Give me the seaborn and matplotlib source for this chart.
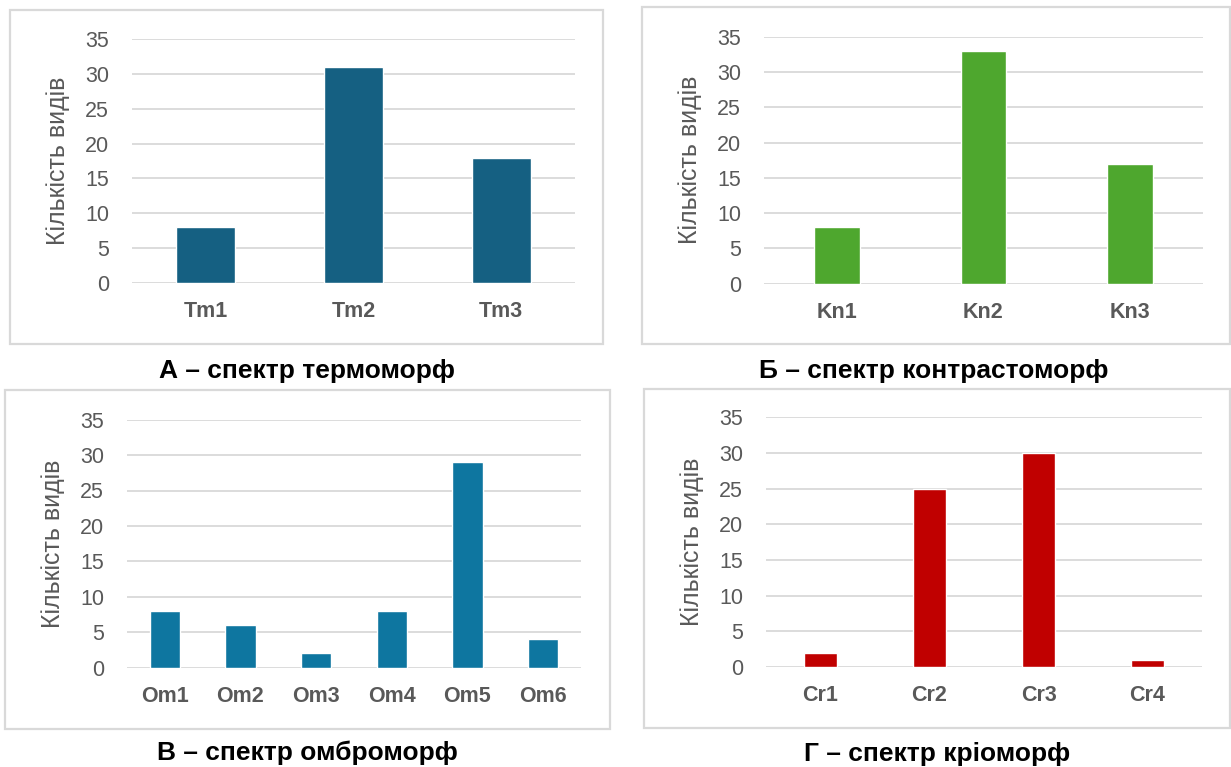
import matplotlib
matplotlib.use("Agg")
import matplotlib.pyplot as plt
from matplotlib.patches import Rectangle
import seaborn as sns
import pandas as pd

# Categories and species counts for each spectrum
thermo_cats = ["Tm1", "Tm2", "Tm3"]
thermo_vals = [8, 31, 18]

contrast_cats = ["Kn1", "Kn2", "Kn3"]
contrast_vals = [8, 33, 17]

ombro_cats = ["Om1", "Om2", "Om3", "Om4", "Om5", "Om6"]
ombro_vals = [8, 6, 2, 8, 29, 4]

cryo_cats = ["Cr1", "Cr2", "Cr3", "Cr4"]
cryo_vals = [2, 25, 30, 1]

y_ticks = [0, 5, 10, 15, 20, 25, 30, 35]
y_label = "Кількість видів"
captions = ["А – спектр термоморф", "Б – спектр контрастоморф",
            "В – спектр омброморф", "Г – спектр кріоморф"]

sns.set_theme(style="white")
plt.rcParams["font.family"] = ["Liberation Sans", "DejaVu Sans"]

W, H = 1231, 767
fig = plt.figure(figsize=(W / 100, H / 100), dpi=100)
fig.patch.set_facecolor("white")

GRID = "#D9D9D9"
TEXT = "#595959"


def px_axes(left, right, top, bottom):
    return fig.add_axes([left / W, 1 - bottom / H, (right - left) / W, (bottom - top) / H])


def frame(left, top, right, bottom):
    fig.patches.append(Rectangle((left / W, 1 - bottom / H), (right - left) / W,
                                 (bottom - top) / H, transform=fig.transFigure,
                                 fill=False, edgecolor=GRID, linewidth=1.6))


panels = [
    # cats, vals, color, bar width, axes box (l, r, t, b), frame (l, t, r, b), caption pos
    (thermo_cats, thermo_vals, "#156082", 0.40, (132, 575, 39, 283), (10, 10, 603, 344), (307, 378)),
    (contrast_cats, contrast_vals, "#4EA72E", 0.31, (764, 1203, 36.7, 283.7), (642, 7, 1230, 344), (934, 378)),
    (ombro_cats, ombro_vals, "#0E76A0", 0.40, (127, 581, 419.7, 667.5), (5, 390, 610, 729), (307, 760)),
    (cryo_cats, cryo_vals, "#C00000", 0.31, (766, 1202, 417.3, 667), (644, 389, 1230, 728), (937, 761)),
]

for (cats, vals, color, bw, box, fr, cap), caption in zip(panels, captions):
    frame(*fr)
    ax = px_axes(*box)
    df = pd.DataFrame({"cat": cats, "n": vals})
    sns.barplot(data=df, x="cat", y="n", order=cats, color=color, width=bw,
                saturation=1, ax=ax, zorder=3)
    ax.set_xlim(-0.5, len(cats) - 0.5)
    ax.set_ylim(0, 35)
    ax.set_yticks(y_ticks)
    ax.yaxis.grid(True, color=GRID, linewidth=1.3)
    ax.xaxis.grid(False)
    ax.set_axisbelow(True)
    for s in ax.spines.values():
        s.set_visible(False)
    ax.set_facecolor("none")
    ax.tick_params(axis="y", length=0, pad=16.5, labelsize=15.5, labelcolor=TEXT)
    ax.tick_params(axis="x", length=0, pad=13, labelsize=15.5, labelcolor=TEXT)
    for lbl in ax.get_xticklabels():
        lbl.set_fontweight("bold")
    ax.set_xlabel("")
    ax.set_ylabel(y_label, fontsize=18, color=TEXT)
    axw = box[1] - box[0]
    ax.yaxis.set_label_coords(-62 / axw, 0.5)
    fig.text(cap[0] / W, 1 - cap[1] / H, caption, ha="center", va="baseline",
             fontsize=19, fontweight="bold", color="black")

fig.savefig("out.png", dpi=100, facecolor="white")
